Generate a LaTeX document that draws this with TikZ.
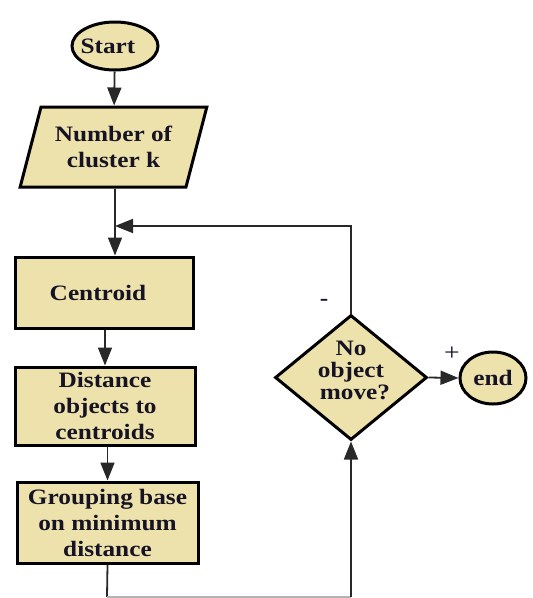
\documentclass[tikz,border=0pt]{standalone}
\usepackage{fontspec}
\setmainfont{Liberation Serif}[FakeStretch=1.15]
\usetikzlibrary{shapes.geometric,arrows.meta}

\definecolor{boxfill}{RGB}{238,226,172}
\definecolor{ink}{RGB}{22,20,36}
\definecolor{wire}{RGB}{40,40,40}

\tikzset{
  flowbase/.style={draw=black, line width=3pt, fill=boxfill, text=ink,
    font=\bfseries\fontsize{22}{26}\selectfont, align=center, inner sep=0pt},
  terminal/.style={flowbase, ellipse},
  iobox/.style={flowbase, trapezium, trapezium left angle=68, trapezium right angle=112,
    trapezium stretches=true},
  procbox/.style={flowbase, rectangle},
  decision/.style={flowbase, diamond},
  flow/.style={draw=wire, line width=1.8pt, -{Triangle[length=18pt,width=14pt]}},
  plainflow/.style={draw=wire, line width=1.8pt},
  signmark/.style={text=ink, font=\bfseries\fontsize{22}{22}\selectfont, inner sep=0pt}
}

\begin{document}
\begin{tikzpicture}[x=1pt, y=-1pt]
\useasboundingbox (0,0) rectangle (533,598);

% nodes
\node[terminal, minimum width=86pt, minimum height=48pt] (start) at (115,46) {\hspace*{-14pt}Start};
\node[iobox, minimum width=187pt, minimum height=80pt] (input) at (113.5,147) {Number of\\cluster k};
\node[procbox, minimum width=178pt, minimum height=71pt] (centroid) at (104,292.5) {\hspace*{-12pt}Centroid};
\node[procbox, minimum width=180pt, minimum height=78pt] (dist) at (105,406) {Distance\\objects to\\centroids};
\node[procbox, minimum width=181pt, minimum height=81pt] (group) at (107.5,522.5) {Grouping base\\on minimum\\distance};
\node[decision, minimum width=152pt, minimum height=125pt, aspect=1.22] (test) at (351,377.5) {};
\node[text=ink, font=\bfseries\fontsize{22}{22}\selectfont, align=center, inner sep=0pt] (testtext) at (351,370) {No\\object\\\hspace*{8pt}move?};
\node[terminal, minimum width=66pt, minimum height=52pt] (stop) at (493,378) {end};

% sign labels on the decision branches
\node[signmark] (minus) at (324,302) {-};
\node[signmark, font=\fontsize{24}{24}\selectfont] (plus) at (452,354) {+};

% helper points of the loop
\coordinate (merge) at (115,226);
\coordinate (bottomleft) at (107,597);
\coordinate (bottomright) at (351,597);

% connectors
\draw[flow] (start) -- (input);
\draw[flow] (input.south -| merge) -- (merge |- centroid.north);
\draw[flow] (centroid.south -| dist.north) -- (dist.north);
\draw[flow] (dist.south -| group.north) -- (group.north);
\draw[plainflow] (group.south) -- (bottomleft);
\draw[draw=black!30, line width=1.5pt] (bottomleft) -- (bottomright);
\draw[flow] (bottomright) -- (test.south);
\draw[flow] (test.north) |- (merge);
\draw[flow] (test.east) -- (stop.west);
\end{tikzpicture}
\end{document}
